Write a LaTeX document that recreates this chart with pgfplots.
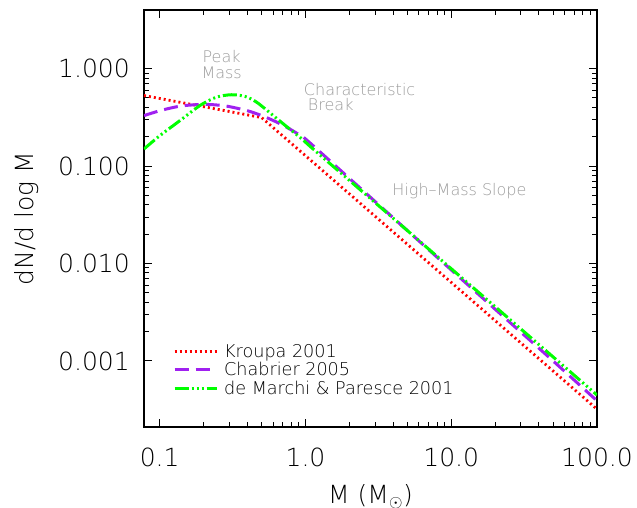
\documentclass[border=0pt]{standalone}
\usepackage{fontspec}
\IfFontExistsTF{DejaVu Sans ExtraLight}{\setmainfont{DejaVu Sans ExtraLight}}{\setmainfont{DejaVu Sans}}
\usepackage{pgfplots}
\pgfplotsset{compat=1.18}

\definecolor{imfred}{RGB}{255,0,0}
\definecolor{imfpurple}{RGB}{160,32,240}
\definecolor{imfgreen}{RGB}{0,255,0}
\definecolor{annot}{RGB}{155,155,155}

\begin{document}
\begin{tikzpicture}
\begin{axis}[
  name=ax,
  scale only axis,
  width=453pt, height=417pt,
  xmode=log, ymode=log,
  xmin=0.078, xmax=100,
  ymin=2.1e-4, ymax=4,
  axis line style={line width=1.3pt},
  major tick length=8pt, minor tick length=5pt,
  every tick/.style={black, line width=1pt},
  xtick={0.1,1,10,100},
  xticklabels={0.1,1.0,10.0,100.0},
  ytick={0.001,0.01,0.1,1},
  yticklabels={0.001,0.010,0.100,1.000},
  /pgf/number format/assume math mode=true,
  tick label style={font=\fontsize{25}{30}\selectfont},
  xticklabel style={anchor=base, yshift=-39.7pt},
  yticklabel style={anchor=east, inner sep=0pt, xshift=-14pt},
  xlabel={M (M\textsubscript{$\odot$})},
  ylabel={dN/d log M},
  label style={font=\fontsize{25}{30}\selectfont},
  xlabel style={at={(axis description cs:0.5,-0.183)}, anchor=base},
  ylabel style={at={(axis description cs:-0.245,0.5)}, anchor=base},
  legend style={draw=none, fill=none, at={(axis description cs:0.064,0.2)},
    anchor=north west, inner sep=0pt, row sep=2.5pt,
    font=\fontsize{17.6}{20}\selectfont,
    nodes={inner ysep=0.5pt, inner xsep=6pt}},
  legend cell align=left,
  legend image code/.code={\draw[#1] (0pt,0pt) -- (42pt,0pt);},
]
% Kroupa 2001
\addplot[imfred, line width=2.8pt, dash pattern=on 2pt off 3pt]
  coordinates {(0.078,0.53) (0.5,0.315) (100,3.2e-4)};
\addlegendentry{Kroupa 2001}
% Chabrier 2005
\addplot[imfpurple, line width=3pt, dash pattern=on 14pt off 7pt, smooth]
  coordinates {(0.078,0.33) (0.1,0.370) (0.125,0.401) (0.15,0.419) (0.2,0.43)
    (0.25,0.423) (0.3,0.408) (0.4,0.370) (0.5,0.330) (0.6,0.294) (0.7,0.263)
    (0.8,0.235) (0.9,0.211) (1.0,0.190) (2,0.0749) (5,0.0218) (10,8.6e-3)
    (20,3.4e-3) (50,1.0e-3) (100,3.9e-4)};
\addlegendentry{Chabrier 2005}
% de Marchi & Paresce 2001
\addplot[imfgreen, line width=3pt, smooth,
  dash pattern=on 14pt off 3pt on 2pt off 3pt on 2pt off 3pt on 2pt off 3pt]
  coordinates {(0.078,0.150) (0.1005,0.206) (0.138,0.294) (0.189,0.419)
    (0.245,0.510) (0.311,0.540) (0.384,0.519) (0.462,0.453) (0.600,0.331)
    (0.703,0.272) (0.914,0.198) (1.127,0.150) (2,0.0714) (5,0.0218)
    (10,8.85e-3) (20,3.61e-3) (50,1.10e-3) (100,4.47e-4)};
\addlegendentry{de Marchi \& Paresce 2001}

\node[annot, align=center, font=\fontsize{16}{16.5}\selectfont]
  at (axis cs:0.266,1.10) {Peak\\Mass};
\node[annot, anchor=west, inner sep=0pt, font=\fontsize{16}{16.5}\selectfont]
  at (axis cs:0.973,0.608) {Characteristic};
\node[annot, anchor=west, inner sep=0pt, font=\fontsize{16}{16.5}\selectfont]
  at (axis cs:1.036,0.43) {Break};
\node[annot, anchor=west, inner sep=0pt, font=\fontsize{16}{16.5}\selectfont]
  at (axis cs:3.94,0.056) {High--Mass Slope};
\end{axis}
\pgfresetboundingbox
\path (ax.south west) ++(-144pt,-81pt) rectangle ++(637pt,508pt);
\end{tikzpicture}
\end{document}
